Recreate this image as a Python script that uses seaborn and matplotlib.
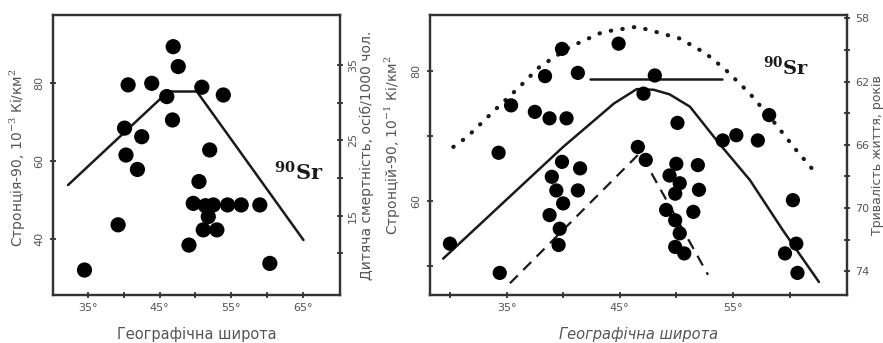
import seaborn as sns
import matplotlib.pyplot as plt

# ---------------- left panel: 90Sr vs latitude + child mortality
left_lat = [34.5, 39.2, 40.6, 40.1, 42.5, 40.3, 41.9, 43.9, 46.0, 46.9, 47.6, 46.8,
            50.9, 53.9, 52.0, 50.5, 49.7, 49.1, 51.1, 53.0, 51.8,
            51.4, 52.5, 54.5, 56.4, 59.0, 60.4]
left_sr = [32.1, 43.7, 79.6, 68.5, 66.3, 61.6, 57.9, 80.0, 76.6, 89.4, 84.3, 70.6,
           79.0, 77.0, 62.9, 54.8, 49.2, 38.5, 42.4, 42.4, 45.8,
           48.6, 48.8, 48.8, 48.8, 48.8, 33.8]
left_line_lat = [32.2, 46.2, 50.2, 65.1]
left_line_sr = [53.9, 77.9, 77.9, 39.8]

# ---------------- right panel: 90Sr vs latitude + life expectancy
right_lat = [30.0, 34.4, 34.3, 35.4, 37.5, 38.8, 40.3, 38.4, 39.9, 41.3, 44.9, 48.1,
             47.1, 50.1, 54.1, 55.3, 57.2, 58.2, 60.3, 60.6, 59.6, 60.7,
             39.9, 41.5, 39.0, 39.4, 41.3, 40.0, 38.8, 39.7, 39.6,
             46.6, 47.3,
             50.0, 51.9, 49.4, 50.3, 52.0, 49.9, 49.1, 51.5, 49.9, 50.3, 49.9, 50.7]
right_sr = [53.4, 48.9, 67.4, 74.7, 73.7, 72.7, 72.7, 79.2, 83.4, 79.7, 84.2, 79.3,
            76.5, 72.0, 69.3, 70.1, 69.3, 73.2, 60.1, 53.4, 51.9, 48.9,
            66.0, 65.0, 63.7, 61.6, 61.6, 59.6, 57.8, 55.7, 53.2,
            68.3, 66.3,
            65.7, 65.5, 63.9, 62.7, 61.7, 61.1, 58.6, 58.3, 57.0, 55.0, 52.9, 51.9]

solid_lat = [29.4, 40.0, 44.5, 46.5, 48.0, 49.4, 51.2, 53.8, 56.5, 59.4, 62.6]
solid_sr = [51.1, 68.3, 75.0, 77.2, 77.1, 76.4, 74.5, 68.8, 63.2, 55.5, 47.5]
dotted_lat = [30.3, 31.5, 34.1, 36.0, 37.9, 40.6, 43.5, 46.5, 47.6, 50.3, 52.6,
              54.4, 56.5, 58.5, 60.6, 62.5]
dotted_val = [68.3, 69.8, 74.2, 77.3, 80.6, 83.7, 86.0, 86.8, 86.3, 85.0, 82.7,
              80.1, 76.5, 72.4, 67.8, 63.9]
dashed_lat = [35.3, 46.8, 52.8]
dashed_val = [47.3, 67.4, 48.6]
bar_lat = [42.4, 54.0]
bar_sr = [78.8, 78.8]

sns.set_style("ticks")
plt.rcParams['font.family'] = ['DejaVu Sans']
plt.rcParams['mathtext.fontset'] = 'dejavuserif'

INK = '#1a1a1a'
GREY = '#555555'

fig = plt.figure(figsize=(8.83, 3.43), dpi=100)
ax1 = fig.add_axes([0.060, 0.140, 0.325, 0.816])
ax3 = fig.add_axes([0.487, 0.140, 0.472, 0.816])


def style(ax):
    for sp in ax.spines.values():
        sp.set_visible(True)
        sp.set_linewidth(1.6)
        sp.set_color('#333333')
    ax.tick_params(which='both', direction='inout', length=5, width=1.3,
                   colors='#333333', labelcolor=GREY, labelsize=8)


# ---- left
sns.lineplot(x=left_line_lat, y=left_line_sr, ax=ax1, color=INK, lw=1.8,
             sort=False, estimator=None)
sns.scatterplot(x=left_lat, y=left_sr, ax=ax1, s=120, color='black',
                edgecolor='none', zorder=3, legend=False)
ax1.set_xlim(30.1, 70.2)
ax1.set_ylim(25.7, 97.5)
ax1.set_xticks([35, 45, 55, 65])
ax1.set_xticklabels(['35°', '45°', '55°', '65°'])
ax1.set_xticks([40, 50, 60], minor=True)
ax1.set_yticks([40, 60, 80])
ax1.set_yticklabels(['40', '60', '80'], rotation=90, va='center')
ax1.set_xlabel('Географічна широта', fontsize=10.5, color=GREY)
ax1.set_ylabel('Стронція-90, 10$^{-3}$ Кі/км$^2$', fontsize=10, color=GREY)
ax1.yaxis.set_label_coords(-0.087, 0.49)
ax1.xaxis.set_label_coords(0.5, -0.114)
ax1.text(64.4, 57.1, r'$^{\mathbf{90}}$Sr', fontsize=15, fontweight='bold',
         family='DejaVu Serif', ha='center', va='center', color=INK)
style(ax1)

ax2 = ax1.twinx()
ax2.set_ylim(4.5, 41.6)
ax2.set_yticks([15, 25, 35])
ax2.set_yticklabels(['15', '25', '35'], rotation=90, va='center')
ax2.set_yticks([10, 20, 30], minor=True)
ax2.set_ylabel('Дитяча смертність, осіб/1000 чол.', fontsize=10, color=GREY)
ax2.yaxis.set_label_coords(1.07, 0.5)
style(ax2)

# ---- right
sns.lineplot(x=dotted_lat, y=dotted_val, ax=ax3, color=INK, lw=3.0,
             sort=False, estimator=None, linestyle=(0, (0.1, 2.7)),
             dash_capstyle='round')
sns.lineplot(x=dashed_lat, y=dashed_val, ax=ax3, color=INK, lw=1.6,
             sort=False, estimator=None, linestyle=(0, (5, 3.5)))
sns.lineplot(x=solid_lat, y=solid_sr, ax=ax3, color=INK, lw=1.8,
             sort=False, estimator=None)
sns.lineplot(x=bar_lat, y=bar_sr, ax=ax3, color=INK, lw=1.8,
             sort=False, estimator=None)
sns.scatterplot(x=right_lat, y=right_sr, ax=ax3, s=105, color='black',
                edgecolor='none', zorder=3, legend=False)
ax3.set_xlim(28.24, 65.06)
ax3.set_ylim(45.5, 88.6)
ax3.set_xticks([35, 45, 55])
ax3.set_xticklabels(['35°', '45°', '55°'])
ax3.set_xticks([30, 40, 50, 60], minor=True)
ax3.set_yticks([60, 80])
ax3.set_yticklabels(['60', '80'], rotation=90, va='center')
ax3.set_yticks([50, 70], minor=True)
ax3.set_xlabel('Географічна широта', fontsize=10.5, color=GREY, style='italic')
ax3.set_ylabel('Стронцій-90, 10$^{-1}$ Кі/км$^2$', fontsize=10, color=GREY)
ax3.yaxis.set_label_coords(-0.065, 0.535)
ax3.xaxis.set_label_coords(0.5, -0.114)
ax3.text(59.7, 80.5, r'$^{\mathbf{90}}$Sr', fontsize=14, fontweight='bold',
         family='DejaVu Serif', ha='center', va='center', color=INK)
style(ax3)

ax4 = ax3.twinx()
ax4.set_ylim(75.5, 57.8)
ax4.set_yticks([58, 62, 66, 70, 74])
ax4.set_yticks([60, 64, 68, 72], minor=True)
ax4.set_ylabel('Тривалість життя, років', fontsize=9, color=GREY)
ax4.yaxis.set_label_coords(1.057, 0.5)
style(ax4)

sns.despine(ax=ax1, top=False, right=False)
sns.despine(ax=ax3, top=False, right=False)

fig.savefig('out.png', dpi=100)
